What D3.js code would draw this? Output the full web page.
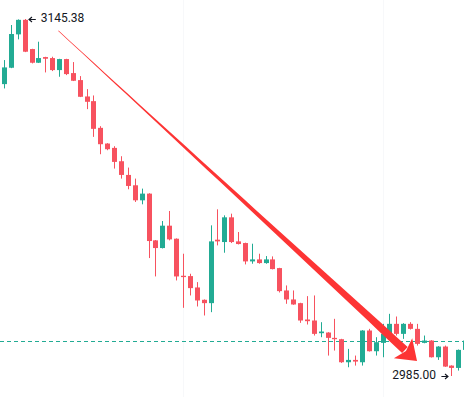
<!DOCTYPE html>
<html>
<head>
<meta charset="utf-8">
<script src="https://cdn.jsdelivr.net/npm/d3@7"></script>
<style>
html,body{margin:0;padding:0;background:#ffffff;overflow:hidden}
svg{display:block}
</style>
</head>
<body>
<svg id="chart" width="464" height="397"></svg>
<script>
// ---- data ----
const categories = [0,1,2,3,4,5,6,7,8,9,10,11,12,13,14,15,16,17,18,19,20,21,22,23,24,25,26,27,28,29,30,31,32,33,34,35,36,37,38,39,40,41,42,43,44,45,46,47,48,49,50,51,52,53,54,55,56,57,58,59,60,61,62,63,64,65,66,67,68];
const openValues = [3116.43,3116.13,3123.48,3138.48,3145.00,3131.88,3125.73,3128.28,3127.83,3122.43,3127.38,3121.08,3117.93,3110.58,3108.48,3096.48,3089.43,3087.48,3081.48,3075.33,3070.68,3063.93,3066.93,3045.93,3042.48,3052.53,3046.68,3030.03,3029.88,3024.78,3019.23,3017.73,3046.23,3045.18,3056.28,3045.48,3044.73,3036.48,3037.38,3035.73,3037.38,3033.48,3023.43,3019.38,3017.73,3010.38,3009.93,3004.23,3004.53,3002.13,3001.53,2991.18,2992.23,2991.18,3005.43,2996.13,2999.88,3003.93,3008.43,3003.93,3008.43,3006.18,2999.88,3000.93,2993.43,2998.23,2989.68,2988.63,2996.73];
const highValues = [3119.43,3126.93,3142.68,3145.20,3145.38,3132.00,3135.18,3128.40,3128.43,3127.50,3127.50,3126.03,3119.73,3113.88,3111.03,3097.23,3089.60,3088.23,3083.73,3078.63,3073.68,3069.18,3067.10,3046.10,3054.63,3059.13,3046.80,3039.93,3030.93,3027.18,3019.40,3052.68,3059.88,3057.18,3057.93,3049.68,3044.90,3044.43,3039.93,3038.88,3038.73,3033.60,3025.68,3023.43,3017.90,3020.88,3021.18,3009.18,3004.70,3010.68,3001.70,2997.18,2994.18,3005.60,3006.18,3002.43,3008.43,3012.93,3011.73,3008.73,3009.18,3008.43,3003.18,3001.10,2998.40,2998.68,2989.80,2996.90,3001.50];
const lowValues = [3115.23,3114.18,3123.30,3136.23,3130.50,3125.43,3125.60,3121.38,3121.98,3119.43,3120.18,3117.50,3110.30,3104.88,3092.43,3084.63,3086.43,3078.18,3073.68,3068.88,3063.18,3062.13,3037.98,3029.73,3042.30,3045.93,3027.93,3015.63,3021.18,3016.23,3012.18,3013.68,3043.68,3040.38,3044.73,3044.10,3035.13,3035.43,3035.43,3035.43,3032.90,3022.53,3017.43,3017.00,3008.88,3008.13,3003.18,3002.43,2994.18,2996.43,2990.88,2988.93,2989.68,2989.68,2996.00,2994.18,2993.43,3003.80,3003.18,3001.68,3005.88,2998.68,2999.70,2993.30,2992.23,2989.10,2985.00,2987.43,2996.50];
const closeValues = [3118.38,3123.63,3138.63,3145.00,3130.68,3125.73,3127.83,3127.53,3122.43,3127.38,3120.63,3117.63,3110.43,3108.18,3096.03,3089.13,3086.88,3081.18,3075.33,3070.38,3063.93,3066.93,3045.63,3042.48,3052.53,3046.38,3029.73,3029.43,3024.48,3018.93,3017.73,3045.48,3045.48,3056.28,3045.18,3044.28,3036.48,3037.38,3035.73,3037.38,3033.03,3023.13,3019.38,3017.13,3009.93,3009.63,3003.93,3004.98,3002.13,3001.53,2991.18,2992.23,2991.48,3005.43,2996.13,3000.18,3003.93,3008.43,3003.93,3008.43,3006.18,2999.43,3000.93,2993.43,2998.23,2989.23,2988.63,2996.73,3000.93];
// faint vertical grid positions (candle index)
const gridAt = [27, 56];
// trend arrow annotation, in data units (candle index, price)
const arrowFrom = [8.9, 3140.1];
const arrowTo = [61.0, 2991.7];

// ---- styles ----
const UP = "#22ab94", DOWN = "#f7525f", ARROW = "#fd3434", TEXT = "#131722";

const W = 464, H = 397;
const svg = d3.select("#chart");
svg.append("rect").attr("width", W).attr("height", H).attr("fill", "#ffffff");

const n = categories.length;
const x = d3.scalePoint().domain(categories).range([-2.88, 465.2]);
const xi = d3.scaleLinear().domain([0, n - 1]).range(x.range());
const step = x.step();
const bodyW = Math.round(step * 0.72);

const allLow = d3.min(lowValues), allHigh = d3.max(highValues);
const y = d3.scaleLinear().domain([allLow, allHigh]).range([376, 19]);

const candles = categories.map((c, i) => ({
  c, o: openValues[i], h: highValues[i], l: lowValues[i], cl: closeValues[i]
}));

// faint grid
const gridG = svg.append("g");
gridAt.forEach(k => {
  gridG.append("line")
    .attr("x1", Math.round(xi(k)) + 0.5).attr("x2", Math.round(xi(k)) + 0.5)
    .attr("y1", 0).attr("y2", H)
    .attr("stroke", "#f7f8fa").attr("stroke-width", 1);
});

// last price dashed line
const lastClose = closeValues[n - 1];
const lastUp = closeValues[n - 1] >= openValues[n - 1];
svg.append("line")
  .attr("x1", 0).attr("x2", W)
  .attr("y1", Math.round(y(lastClose)) + 0.5).attr("y2", Math.round(y(lastClose)) + 0.5)
  .attr("stroke", lastUp ? UP : DOWN).attr("stroke-width", 1)
  .attr("stroke-dasharray", "4,3");

// candles
const cg = svg.append("g");
const g = cg.selectAll("g.candle").data(candles).join("g").attr("class", "candle");
g.append("line")
  .attr("x1", d => Math.round(x(d.c)) + 0.5)
  .attr("x2", d => Math.round(x(d.c)) + 0.5)
  .attr("y1", d => y(d.h))
  .attr("y2", d => y(d.l))
  .attr("stroke", d => d.cl >= d.o ? UP : DOWN)
  .attr("stroke-width", 1);
g.append("rect")
  .attr("x", d => Math.round(x(d.c)) + 0.5 - bodyW / 2)
  .attr("width", bodyW)
  .attr("y", d => y(Math.max(d.o, d.cl)))
  .attr("height", d => Math.max(1, Math.abs(y(d.o) - y(d.cl))))
  .attr("fill", d => d.cl >= d.o ? UP : DOWN);

// high / low labels
const hiIdx = highValues.indexOf(allHigh);
const loIdx = lowValues.indexOf(allLow);
const hx = Math.round(x(categories[hiIdx])) + bodyW / 2, hy = y(allHigh);
const lx = Math.round(x(categories[loIdx])), ly = y(allLow);

function smallArrow(x0, x1, yy, dir) {
  const p = d3.path();
  p.moveTo(x0, yy); p.lineTo(x1, yy);
  const tipX = dir < 0 ? x0 : x1;
  p.moveTo(tipX - dir * 3, yy - 2.5); p.lineTo(tipX, yy); p.lineTo(tipX - dir * 3, yy + 2.5);
  svg.append("path").attr("d", p.toString()).attr("fill", "none")
    .attr("stroke", TEXT).attr("stroke-width", 1.1);
}
smallArrow(hx + 1.5, hx + 8.3, Math.round(hy) + 0.5, -1);
svg.append("text")
  .attr("x", hx + 13.2).attr("y", hy + 2.8)
  .attr("font-family", "Roboto, 'Noto Sans', sans-serif").attr("font-size", 12)
  .attr("fill", TEXT).text(allHigh.toFixed(2));

smallArrow(lx - 9.6, lx - 3, Math.round(ly) + 0.5, 1);
svg.append("text")
  .attr("x", lx - 15).attr("y", ly + 2.5)
  .attr("text-anchor", "end")
  .attr("font-family", "Roboto, 'Noto Sans', sans-serif").attr("font-size", 12)
  .attr("fill", TEXT).text(allLow.toFixed(2));

// trend arrow (tapered shaft + head)
const S = [xi(arrowFrom[0]), y(arrowFrom[1])];
const T = [xi(arrowTo[0]), y(arrowTo[1])];
const dx = T[0] - S[0], dy = T[1] - S[1];
const len = Math.hypot(dx, dy);
const u = [dx / len, dy / len], nrm = [-u[1], u[0]];
const headLen = 19, headHalf = 13.5, notch = 15, shaftEnd = 16.5;
const shaftLen = len - shaftEnd;
const widthAt = t => 0.6 + 7.6 * Math.pow(t, 1.4);
const left = [], right = [];
for (let k = 0; k <= 30; k++) {
  const t = k / 30;
  const cx = S[0] + u[0] * shaftLen * t, cy = S[1] + u[1] * shaftLen * t;
  const w = widthAt(t) / 2;
  left.push([cx + nrm[0] * w, cy + nrm[1] * w]);
  right.push([cx - nrm[0] * w, cy - nrm[1] * w]);
}
const shaftPts = left.concat(right.reverse());
svg.append("path")
  .attr("d", d3.line()(shaftPts) + "Z")
  .attr("fill", ARROW);
const headPts = [
  T,
  [T[0] - u[0] * headLen + nrm[0] * headHalf, T[1] - u[1] * headLen + nrm[1] * headHalf],
  [T[0] - u[0] * notch, T[1] - u[1] * notch],
  [T[0] - u[0] * headLen - nrm[0] * headHalf, T[1] - u[1] * headLen - nrm[1] * headHalf]
];
svg.append("path")
  .attr("d", d3.line()(headPts) + "Z")
  .attr("fill", ARROW);
</script>
</body>
</html>
